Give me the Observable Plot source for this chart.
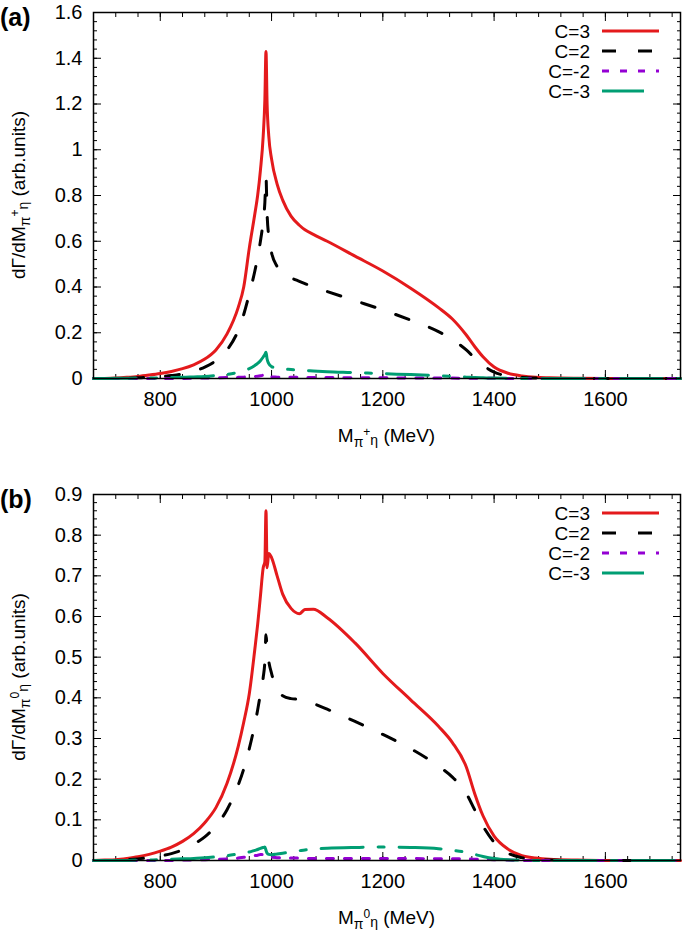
<!DOCTYPE html>
<html><head><meta charset="utf-8">
<script src="https://cdn.jsdelivr.net/npm/d3@7"></script>
<script src="https://cdn.jsdelivr.net/npm/@observablehq/plot@0.6"></script>
<style>body{margin:0;background:#fff;} svg{display:block;}</style>
</head><body><div id="chart"></div>
<script>
// ---- data ----
const mass = [680,700,720,740,760,780,800,820,840,860,880,900,920,940,950,960,970,975,980,985,988,990,992,995,1000,1010,1020,1035,1050,1060,1075,1100,1150,1200,1250,1300,1325,1350,1365,1380,1400,1425,1450,1475,1500,1550,1600,1650,1700,1735];
const seriesNames = ["C=3","C=2","C=-2","C=-3"];

// panel (a): pi+ eta
const c3A  = [0,0.0005,0.002,0.005,0.009,0.015,0.022,0.031,0.043,0.06,0.085,0.125,0.195,0.31,0.4,0.57,0.72,0.8,0.91,1.06,1.22,1.43,1.2,1.06,0.96,0.85,0.78,0.71,0.67,0.65,0.63,0.6,0.535,0.47,0.395,0.31,0.26,0.19,0.14,0.095,0.05,0.023,0.011,0.005,0.003,0.001,0,0,0,0];
const c2A  = [0,0,0,0.001,0.003,0.005,0.008,0.013,0.02,0.032,0.05,0.078,0.125,0.21,0.28,0.37,0.47,0.53,0.6,0.69,0.77,0.88,0.72,0.62,0.55,0.49,0.46,0.44,0.425,0.415,0.4,0.38,0.34,0.3,0.255,0.205,0.17,0.125,0.09,0.058,0.028,0.011,0.004,0.002,0.001,0,0,0,0,0];
const cm2A = [0,0,0,0,0,0,0,0,0,0.001,0.002,0.003,0.004,0.005,0.006,0.007,0.009,0.01,0.012,0.015,0.018,0.02,0.012,0.009,0.007,0.006,0.005,0.005,0.005,0.004,0.004,0.004,0.003,0.003,0.002,0.002,0.002,0.001,0.001,0.001,0.001,0,0,0,0,0,0,0,0,0];
const cm3A = [0,0,0.001,0.001,0.002,0.002,0.003,0.004,0.005,0.007,0.009,0.013,0.018,0.027,0.034,0.043,0.057,0.066,0.078,0.094,0.105,0.115,0.085,0.065,0.052,0.045,0.042,0.039,0.036,0.035,0.033,0.03,0.026,0.021,0.017,0.012,0.009,0.006,0.004,0.003,0.002,0.001,0,0,0,0,0,0,0,0];

// panel (b): pi0 eta
const c3B  = [0,0.001,0.002,0.005,0.009,0.015,0.023,0.033,0.047,0.066,0.093,0.13,0.19,0.28,0.34,0.41,0.52,0.58,0.65,0.72,0.735,0.86,0.72,0.755,0.745,0.7,0.655,0.62,0.607,0.617,0.618,0.597,0.535,0.46,0.395,0.33,0.29,0.23,0.165,0.11,0.06,0.028,0.012,0.006,0.003,0.001,0,0,0,0];
const c2B  = [0,0,0.001,0.002,0.004,0.007,0.011,0.017,0.026,0.04,0.058,0.085,0.125,0.185,0.225,0.275,0.335,0.37,0.41,0.45,0.49,0.555,0.52,0.49,0.46,0.42,0.405,0.398,0.396,0.393,0.386,0.372,0.342,0.31,0.275,0.232,0.205,0.165,0.125,0.085,0.045,0.018,0.007,0.003,0.001,0,0,0,0,0];
const cm2B = [0,0,0,0,0,0,0,0,0.001,0.001,0.002,0.003,0.004,0.006,0.008,0.01,0.012,0.013,0.015,0.015,0.015,0.014,0.012,0.01,0.008,0.007,0.006,0.006,0.006,0.005,0.005,0.005,0.005,0.005,0.005,0.004,0.004,0.004,0.003,0.003,0.002,0.001,0,0,0,0,0,0,0,0];
const cm3B = [0,0,0,0,0.001,0.001,0.002,0.003,0.004,0.005,0.007,0.009,0.012,0.016,0.018,0.021,0.025,0.027,0.03,0.032,0.033,0.025,0.018,0.015,0.014,0.016,0.018,0.021,0.024,0.026,0.028,0.03,0.032,0.033,0.032,0.029,0.025,0.02,0.015,0.01,0.005,0.002,0.001,0,0,0,0,0,0,0];

// ticks
const xTicks = [800,1000,1200,1400,1600];
const yTicksA = [0,0.2,0.4,0.6,0.8,1,1.2,1.4,1.6];
const yTicksB = [0,0.1,0.2,0.3,0.4,0.5,0.6,0.7,0.8,0.9];

// ---- styles ----
const colors = ["#e41a1c","#000000","#9400d3","#009e73"];
const dashes = [null,"14,22","7,11","42,15,6,15"];
const FONT = "'Liberation Sans', Arial, Helvetica, sans-serif";

function richText(parent, parts, attrs) {
  const t = parent.append("text").attr("font-family", FONT).attr("fill", "black");
  for (const [k, v] of Object.entries(attrs)) t.attr(k, v);
  for (const p of parts) {
    const s = t.append("tspan").text(p.t);
    if (p.dy) s.attr("dy", p.dy);
    if (p.fs) s.attr("font-size", p.fs);
  }
  return t;
}

function panel(opts) {
  const {series, yMax, yTicks, yMinor, height, marginBottom, tag, sup} = opts;
  const W = 685, mL = 93, mR = 5, mT = 12;
  const rows = [];
  series.forEach((vals, si) => {
    mass.forEach((m, i) => rows.push({m, v: vals[i], s: si}));
  });
  const xMinor = d3.range(680, 1736, 40);
  const marks = [
    Plot.axisX(xTicks, {tickSize: 0, tickPadding: 13, label: null, fontSize: 20, tickFormat: d => String(d)}),
    Plot.axisY(yTicks, {tickSize: 0, tickPadding: 11, label: null, fontSize: 20, tickFormat: d => String(d)}),
    Plot.axisX(xTicks, {anchor: "bottom", tickSize: -8, text: null, label: null}),
    Plot.axisX(xTicks, {anchor: "top", tickSize: -8, text: null, label: null}),
    Plot.axisX(xMinor, {anchor: "bottom", tickSize: -4, text: null, label: null}),
    Plot.axisX(xMinor, {anchor: "top", tickSize: -4, text: null, label: null}),
    Plot.axisY(yTicks, {anchor: "left", tickSize: -8, text: null, label: null}),
    Plot.axisY(yTicks, {anchor: "right", tickSize: -8, text: null, label: null}),
    Plot.axisY(yMinor, {anchor: "left", tickSize: -4, text: null, label: null}),
    Plot.axisY(yMinor, {anchor: "right", tickSize: -4, text: null, label: null}),
  ];
  series.forEach((vals, si) => {
    marks.push(Plot.line(rows.filter(r => r.s === si), {
      x: "m", y: "v", stroke: colors[si], strokeWidth: 3,
      strokeDasharray: dashes[si] || undefined, curve: "monotone-x"
    }));
  });
  marks.push(Plot.frame({stroke: "black", strokeWidth: 1.5}));
  const svgNode = Plot.plot({
    width: W, height, marginTop: mT, marginBottom, marginLeft: mL, marginRight: mR,
    x: {domain: [680, 1735]},
    y: {domain: [0, yMax]},
    style: {fontFamily: FONT, fontSize: "20px", color: "black", background: "white"},
    marks
  });
  const svg = d3.select(svgNode);
  const frameBottom = height - marginBottom;
  const cy = (mT + frameBottom) / 2;
  const cx = (mL + W - mR) / 2;
  svg.append("text").attr("x", 0).attr("y", 26).attr("font-family", FONT)
    .attr("text-anchor", "start")
    .attr("font-size", 25).attr("font-weight", "bold").text(tag);
  richText(svg, [
    {t: "d\u0393/dM"}, {t: "\u03c0", dy: 5, fs: 14}, {t: sup, dy: -11, fs: 12},
    {t: "\u03b7", dy: 9, fs: 14}, {t: " (arb.units)", dy: -3}
  ], {transform: `translate(25,${cy}) rotate(-90)`, "text-anchor": "middle", "font-size": 19});
  richText(svg, [
    {t: "M"}, {t: "\u03c0", dy: 5, fs: 14}, {t: sup, dy: -11, fs: 12},
    {t: "\u03b7", dy: 9, fs: 14}, {t: " (MeV)", dy: -3}
  ], {x: cx, y: frameBottom + 64, "text-anchor": "middle", "font-size": 19});
  const lg = svg.append("g");
  seriesNames.forEach((name, i) => {
    const y = mT + 19 + i * 20;
    lg.append("text").attr("x", 590).attr("y", y + 7).attr("text-anchor", "end")
      .attr("font-family", FONT).attr("font-size", 19).text(name);
    lg.append("line").attr("x1", 602).attr("x2", 659).attr("y1", y).attr("y2", y)
      .attr("stroke", colors[i]).attr("stroke-width", 3)
      .attr("stroke-dasharray", dashes[i] || null);
  });
  return svgNode;
}

const root = document.getElementById("chart");
root.appendChild(panel({
  series: [c3A, c2A, cm2A, cm3A], yMax: 1.6, yTicks: yTicksA,
  yMinor: d3.range(0, 1.601, 0.04), height: 482, marginBottom: 104, tag: "(a)", sup: "+"
}));
root.appendChild(panel({
  series: [c3B, c2B, cm2B, cm3B], yMax: 0.9, yTicks: yTicksB,
  yMinor: d3.range(0, 0.901, 0.02), height: 453, marginBottom: 75, tag: "(b)", sup: "0"
}));
</script></body></html>
